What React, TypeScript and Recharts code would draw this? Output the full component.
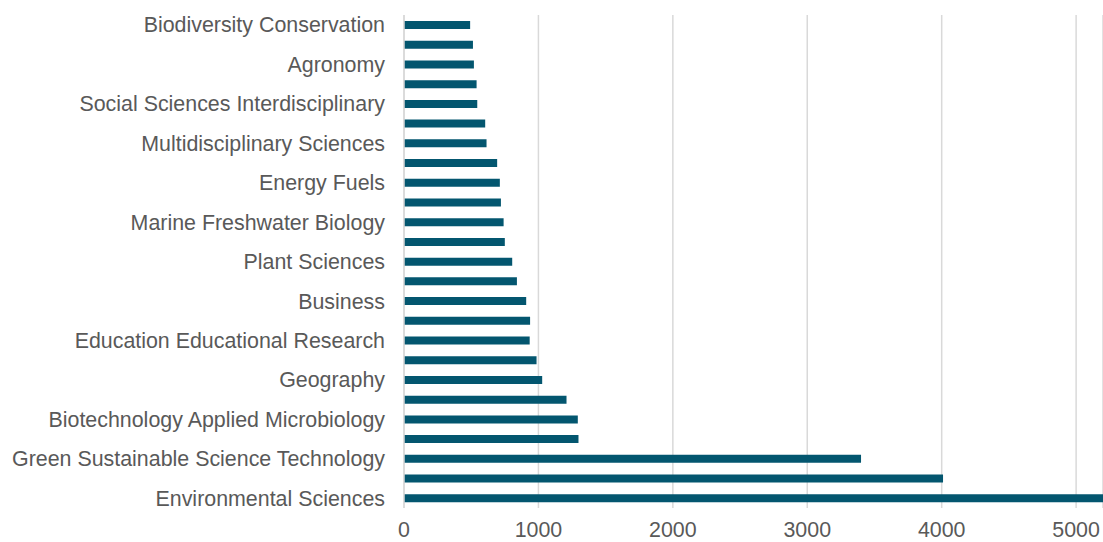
import { BarChart, Bar, XAxis, YAxis, CartesianGrid } from 'recharts'

// top → bottom, only every other category label is shown on the axis
const categories = [
  'Biodiversity Conservation',
  'Regional Urban Planning',
  'Agronomy',
  'Urban Studies',
  'Social Sciences Interdisciplinary',
  'Toxicology',
  'Multidisciplinary Sciences',
  'Engineering Chemical',
  'Energy Fuels',
  'Economics',
  'Marine Freshwater Biology',
  'Food Science Technology',
  'Plant Sciences',
  'Management',
  'Business',
  'Public Environmental Occupational Health',
  'Education Educational Research',
  'Water Resources',
  'Geography',
  'Ecology',
  'Biotechnology Applied Microbiology',
  'Engineering Environmental',
  'Green Sustainable Science Technology',
  'Environmental Studies',
  'Environmental Sciences',
]

const counts = [
  492, 513, 520, 540, 545, 604, 614, 693, 713, 721, 741, 750, 805,
  840, 909, 938, 935, 986, 1028, 1209, 1293, 1298, 3400, 4010, 5300,
]

const xTicks = [0, 1000, 2000, 3000, 4000, 5000]

const data = categories.map((name, i) => ({ name, count: counts[i] }))

const TEXT = '#595959'
const GRID = '#d9d9d9'
const BAR = '#03566f'
const FONT = 'Liberation Sans, Arial, sans-serif'

export default function App() {
  return (
    <div style={{ width: 1103, height: 542 }}>
      <style>{'body{margin:0}'}</style>
      <BarChart
        width={1103}
        height={542}
        data={data}
        layout="vertical"
        margin={{ top: 15, right: 0, bottom: 0, left: 0 }}
        barCategoryGap={0}
      >
        <CartesianGrid horizontal={false} stroke={GRID} strokeWidth={1.5} />
        <XAxis
          type="number"
          domain={[0, 5200]}
          ticks={xTicks}
          allowDataOverflow
          axisLine={false}
          tickLine={false}
          tickSize={0}
          tickMargin={14}
          height={34}
          tick={{ fill: TEXT, fontSize: 21.4, fontFamily: FONT }}
        />
        <YAxis
          type="category"
          dataKey="name"
          width={404}
          interval={1}
          axisLine={{ stroke: GRID, strokeWidth: 1.5 }}
          tickLine={false}
          tickSize={0}
          tickMargin={19}
          tick={{ fill: TEXT, fontSize: 21.4, fontFamily: FONT }}
        />
        <Bar dataKey="count" fill={BAR} barSize={8} isAnimationActive={false} />
      </BarChart>
    </div>
  )
}
